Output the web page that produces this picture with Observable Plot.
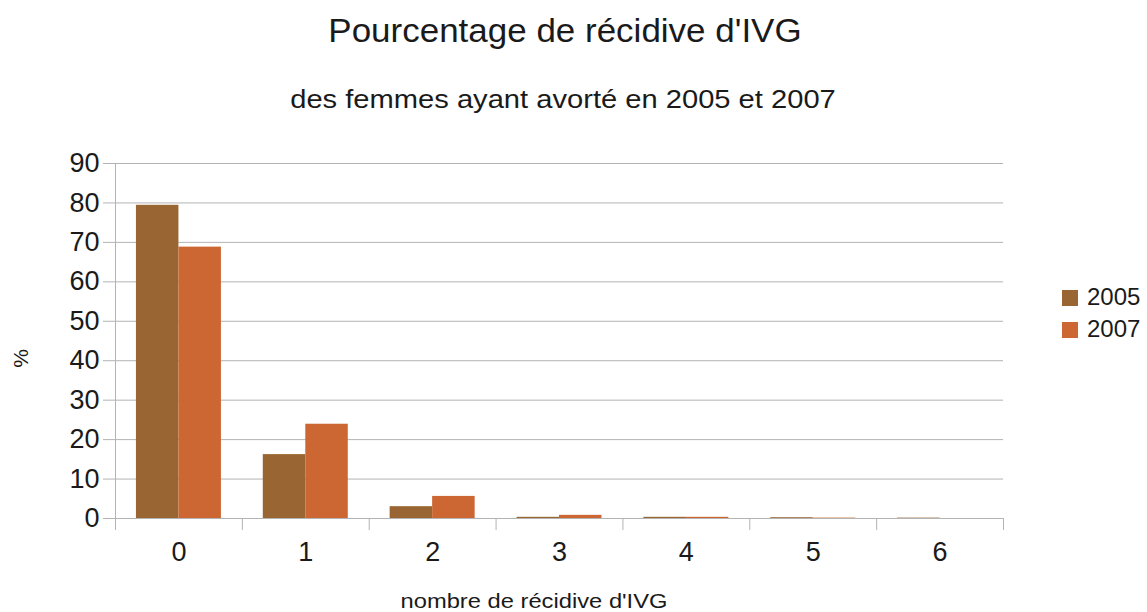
<!DOCTYPE html>
<html>
<head>
<meta charset="utf-8">
<script src="https://cdn.jsdelivr.net/npm/d3@7"></script>
<script src="https://cdn.jsdelivr.net/npm/@observablehq/plot@0.6"></script>
<style>
  html, body { margin: 0; padding: 0; background: #fff; }
  #wrap { position: relative; width: 1147px; height: 612px; font-family: "Liberation Sans", Arial, sans-serif; color: #1a1a1a; overflow: hidden; }
  #wrap svg { position: absolute; left: 0; top: 0; }
  .t { position: absolute; white-space: nowrap; line-height: 1; text-align: center; }
  #title { left: 0px; width: 1130px; top: 14px; font-size: 33px; transform: scaleX(1.06); }
  #subtitle { left: 0px; width: 1126px; top: 86px; font-size: 26px; transform: scaleX(1.12); }
  #xlabel { left: 384px; width: 300px; top: 590px; font-size: 21px; transform: scaleX(1.13); }
  #ylabel { left: 0px; width: 40px; top: 348px; font-size: 21px; transform: rotate(-90deg); }
  #legend { position: absolute; left: 1062px; top: 281px; font-size: 24px; line-height: 32px; color: #1a1a1a; }
  #legend .sw { display: inline-block; width: 16px; height: 16px; margin-right: 9px; vertical-align: -1px; }
</style>
</head>
<body>
<div id="wrap">
  <div class="t" id="title">Pourcentage de récidive d'IVG</div>
  <div class="t" id="subtitle">des femmes ayant avorté en 2005 et 2007</div>
  <div class="t" id="xlabel">nombre de récidive d'IVG</div>
  <div class="t" id="ylabel">%</div>
  <div id="legend"></div>
</div>
<script>
const categories = ["0", "1", "2", "3", "4", "5", "6"];
const years = ["2005", "2007"];
const values2005 = [79.4, 16.2, 3.0, 0.3, 0.3, 0.2, 0.1];
const values2007 = [68.8, 23.9, 5.6, 0.8, 0.3, 0.1, 0.0];
const colors = ["#996633", "#cc6633"];
const yTicks = [0, 10, 20, 30, 40, 50, 60, 70, 80, 90];

const barW = 0.335;
const data = [];
categories.forEach((c, i) => {
  data.push({cat: c, i, year: years[0], value: values2005[i]});
  data.push({cat: c, i, year: years[1], value: values2007[i]});
});
const centers = categories.map((c, i) => i);
const bounds = d3.range(categories.length + 1).map(i => i - 0.5);

const chart = Plot.plot({
  width: 1147,
  height: 612,
  marginLeft: 115,
  marginRight: 144,
  marginTop: 163,
  marginBottom: 94,
  style: {fontFamily: "Liberation Sans, Arial, sans-serif", fontSize: "27px", color: "#1a1a1a", background: "transparent"},
  x: {domain: [-0.5, categories.length - 0.5]},
  y: {domain: [0, 90]},
  color: {domain: years, range: colors},
  marks: [
    Plot.ruleY(yTicks, {stroke: "#b3b3b3", strokeWidth: 1}),
    Plot.axisY({ticks: yTicks, tickSize: 12, tickPadding: 4, stroke: "#b3b3b3", strokeOpacity: 1, label: null, fontSize: 27}),
    Plot.ruleX([-0.5], {stroke: "#b3b3b3", strokeWidth: 1}),
    Plot.rectY(data, {
      x1: d => d.year === years[0] ? d.i - barW : d.i,
      x2: d => d.year === years[0] ? d.i : d.i + barW,
      y: "value",
      fill: "year"
    }),
    Plot.ruleY([0], {stroke: "#b3b3b3", strokeWidth: 1.2}),
    Plot.axisX({ticks: bounds, tickSize: 12, tickFormat: () => "", stroke: "#b3b3b3", strokeOpacity: 1, label: null}),
    Plot.axisX({ticks: centers, tickSize: 0, tickPadding: 23, tickFormat: i => categories[i], label: null, fontSize: 27})
  ]
});
document.getElementById("wrap").prepend(chart);

const legend = document.getElementById("legend");
years.forEach((y, k) => {
  const row = document.createElement("div");
  row.innerHTML = `<span class="sw" style="background:${colors[k]}"></span>${y}`;
  legend.appendChild(row);
});
</script>
</body>
</html>
